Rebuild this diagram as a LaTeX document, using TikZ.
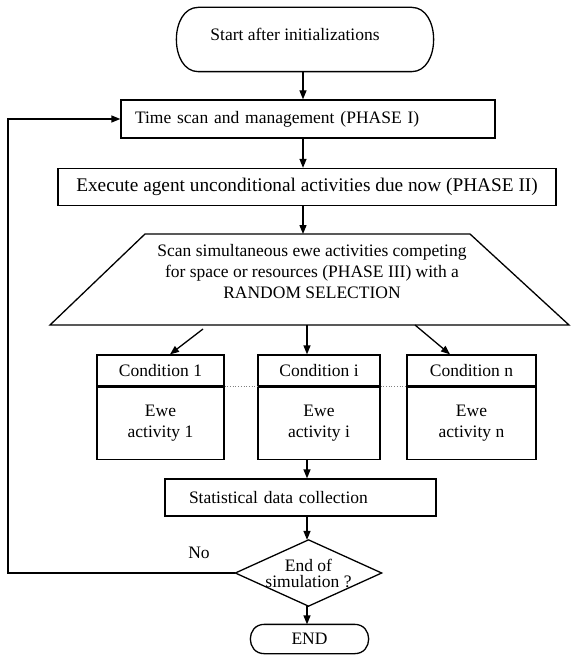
\documentclass[tikz,border=0pt]{standalone}
\usepackage{fontspec}
\setmainfont{Liberation Serif}
\usetikzlibrary{arrows.meta}
\begin{document}
\begin{tikzpicture}[x=1pt,y=-1pt,
  line width=1.3pt,
  font=\fontsize{17.5}{21}\selectfont,
  arr/.style={-{Triangle[length=9pt,width=7pt]}},
  box/.style={draw, rectangle, inner sep=0pt},
  plain/.style={inner sep=0pt},
]
\useasboundingbox (0,0) rectangle (570,655);
\fill[white] (0,0) rectangle (570,655);

% start terminal
\node[plain, minimum width=256pt, minimum height=63pt] (start) at (305,39.5) {};
\draw ([xshift=22pt]start.north west) -- ([xshift=-22pt]start.north east)
  .. controls ([xshift=7.3pt]start.north east) and ([xshift=7.3pt]start.south east) .. ([xshift=-22pt]start.south east)
  -- ([xshift=22pt]start.south west)
  .. controls ([xshift=-7.3pt]start.south west) and ([xshift=-7.3pt]start.north west) .. ([xshift=22pt]start.north west) -- cycle;
\node[plain] (starttxt) at ([xshift=-10pt,yshift=5pt]start.center) {Start after initializations};

% phase I
\node[box, minimum height=38pt, text width=346pt, inner xsep=14pt, align=left] (ts) at (308,119) {Time scan and management (PHASE I)};
% phase II
\node[box, minimum width=498pt, minimum height=37pt, font=\fontsize{19.3}{23}\selectfont] (ex) at (307,187) {Execute agent unconditional activities due now (PHASE II)};

% phase III trapezoid
\coordinate (tl) at (145,234);
\coordinate (tr) at (470,234);
\coordinate (br) at (569,325);
\coordinate (bl) at (50,325);
\draw (tl) -- (tr) -- (br) -- (bl) -- cycle;
\node[plain, align=center] (trap) at (312,272) {Scan simultaneous ewe activities competing\\for space or resources (PHASE III) with a\\RANDOM SELECTION};

% condition boxes
\node[box, minimum width=127pt, minimum height=31pt] (c1h) at (160.5,370.5) {Condition 1};
\node[box, minimum width=127pt, minimum height=72pt, align=center, anchor=north] (c1b) at (c1h.south) {Ewe\\activity 1};
\node[box, minimum width=122pt, minimum height=31pt] (cih) at (319,370.5) {Condition i};
\node[box, minimum width=122pt, minimum height=72pt, align=center, anchor=north] (cib) at (cih.south) {Ewe\\activity i};
\node[box, minimum width=129pt, minimum height=31pt] (cnh) at (471.5,370.5) {Condition n};
\node[box, minimum width=129pt, minimum height=72pt, align=center, anchor=north] (cnb) at (cnh.south) {Ewe\\activity n};
\draw[gray, dotted, line width=0.7pt] (c1h.south east) -- (cih.south west);
\draw[gray, dotted, line width=0.7pt] (cih.south east) -- (cnh.south west);

% statistics
\node[box, minimum height=37pt, text width=247pt, inner xsep=12pt, align=left] (st) at (300.5,497.5) {\hspace*{12pt}Statistical data collection};

% decision
\node[plain, minimum width=145pt, minimum height=65pt, align=center, font=\fontsize{17.5}{16}\selectfont] (dec) at (308.5,573) {\raisebox{3pt}{\parbox{120pt}{\centering End of\\simulation ?}}};
\draw (dec.north) -- (dec.east) -- (dec.south) -- (dec.west) -- cycle;
\node[plain] (no) at (199,553) {No};

% end terminal
\node[plain, minimum width=117pt, minimum height=28pt] (endn) at (309.5,639) {END};
\draw ([xshift=14pt]endn.north west) -- ([xshift=-14pt]endn.north east)
  .. controls ([xshift=4.7pt]endn.north east) and ([xshift=4.7pt]endn.south east) .. ([xshift=-14pt]endn.south east)
  -- ([xshift=14pt]endn.south west)
  .. controls ([xshift=-4.7pt]endn.south west) and ([xshift=-4.7pt]endn.north west) .. ([xshift=14pt]endn.north west) -- cycle;

% connectors
\coordinate (ax) at (303,0);
\coordinate (ax2) at (307,0);
\draw[arr] (start.south -| ax) -- (ts.north -| ax);
\draw[arr] (ts.south -| ax) -- (ex.north -| ax);
\draw[arr] (ex.south -| ax) -- (tl -| ax);
\coordinate (t1) at (203,329);
\coordinate (tm) at (307,325);
\coordinate (tn) at (415,325);
\draw[arr] (t1) -- ([xshift=9.5pt]c1h.north);
\draw[arr] (tm) -- (cih.north -| tm);
\draw[arr] (tn) -- ([xshift=-21.5pt]cnh.north);
\draw[arr] (cib.south -| ax2) -- (st.north -| ax2);
\draw[arr] (st.south -| ax2) -- (dec.north -| ax2);
\draw[arr] (dec.south -| ax2) -- (endn.north -| ax2);
\coordinate (lp) at (8,300);
\draw[arr] (dec.west) -| (lp) |- (ts.west);
\end{tikzpicture}
\end{document}
